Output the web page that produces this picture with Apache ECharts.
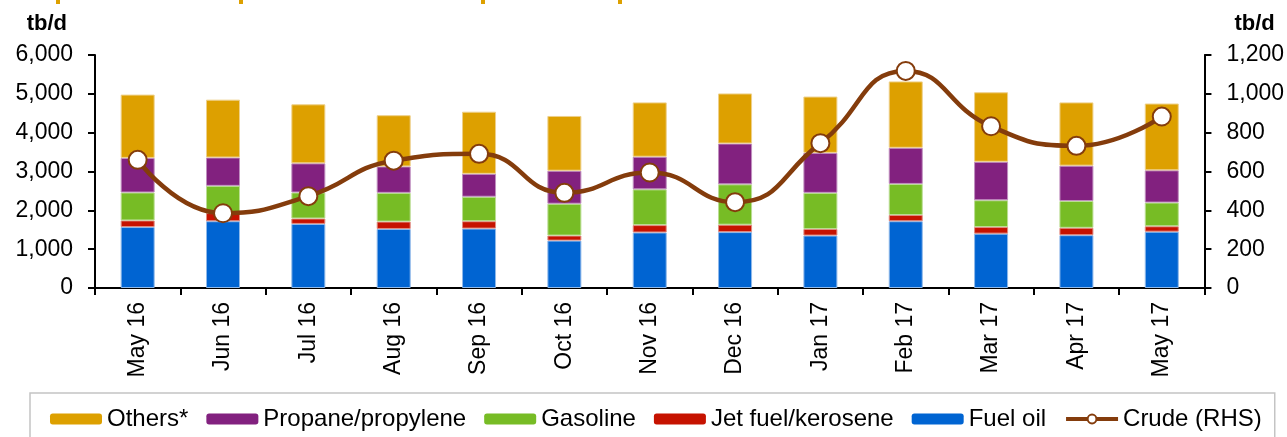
<!DOCTYPE html>
<html>
<head>
<meta charset="utf-8">
<script src="https://cdn.jsdelivr.net/npm/echarts@6/dist/echarts.min.js"></script>
<style>
html,body{margin:0;padding:0;background:#fff;}
#main{width:1287px;height:437px;}
</style>
</head>
<body>
<div id="main"></div>
<script>
// months
var months = ['May 16', 'Jun 16', 'Jul 16', 'Aug 16', 'Sep 16', 'Oct 16', 'Nov 16', 'Dec 16', 'Jan 17', 'Feb 17', 'Mar 17', 'Apr 17', 'May 17'];
// stacked products, tb/d (left axis)
var fuelOil  = [1570, 1720, 1650, 1520, 1530, 1220, 1430, 1440, 1350, 1720, 1400, 1360, 1450];
var jetFuel  = [170, 210, 140, 190, 190, 130, 190, 190, 170, 160, 170, 190, 140];
var gasoline = [720, 700, 670, 740, 630, 820, 920, 1040, 930, 800, 690, 690, 610];
var propane  = [890, 730, 750, 680, 590, 850, 840, 1050, 1030, 930, 990, 910, 830];
var others   = [1630, 1490, 1520, 1320, 1600, 1410, 1400, 1290, 1450, 1710, 1790, 1630, 1720];
// crude, tb/d (right axis)
var crude = [660, 385, 473, 656, 691, 490, 595, 442, 746, 1118, 833, 732, 883];

var leftTicks = {min: 0, max: 6000, interval: 1000};
var rightTicks = {min: 0, max: 1200, interval: 200};

var fnt = "'Liberation Sans', Arial, sans-serif";
var brown = '#843c0c';

function fmt(v) {
	return String(v).replace(/\B(?=(\d{3})+(?!\d))/g, ',');
}

function barSeries(name, data, color, edge) {
	return {
		name: name,
		type: 'bar',
		stack: 'prod',
		barWidth: 34,
		itemStyle: {color: color, borderColor: edge, borderWidth: 1},
		data: data
	};
}

var myChart = echarts.init(document.getElementById('main'));
var option = {
	animation: false,
	textStyle: {fontFamily: fnt, color: '#000'},
	grid: {left: 95, right: 82, top: 55, bottom: 149},
	legend: {
		left: 30,
		top: 393,
		width: 1240,
		padding: [14, 13, 30, 20],
		borderColor: '#c4c4c4',
		borderWidth: 1.5,
		itemWidth: 52,
		itemHeight: 11,
		itemGap: 18,
		itemStyle: {borderWidth: 0},
		textStyle: {fontSize: 24, color: '#000', fontFamily: fnt},
		data: ['Others*', 'Propane/propylene', 'Gasoline', 'Jet fuel/kerosene', 'Fuel oil', {
			name: 'Crude (RHS)',
			itemStyle: {color: '#fff', borderColor: brown, borderWidth: 2},
			lineStyle: {color: brown, width: 4}
		}]
	},
	graphic: [
		{type: 'rect', shape: {x: 56, y: 0, width: 4, height: 4}, style: {fill: '#dda000'}},
		{type: 'rect', shape: {x: 239, y: 0, width: 4, height: 4}, style: {fill: '#dda000'}},
		{type: 'rect', shape: {x: 481, y: 0, width: 4, height: 4}, style: {fill: '#dda000'}},
		{type: 'rect', shape: {x: 618, y: 0, width: 4, height: 4}, style: {fill: '#dda000'}}
	],
	xAxis: {
		type: 'category',
		data: months,
		axisLine: {lineStyle: {color: '#000', width: 2}},
		axisTick: {show: true, length: 7, lineStyle: {color: '#000', width: 2}},
		axisLabel: {rotate: 90, fontSize: 23, color: '#000', margin: 14, interval: 0}
	},
	yAxis: [{
		type: 'value',
		min: leftTicks.min, max: leftTicks.max, interval: leftTicks.interval,
		name: 'tb/d',
		nameLocation: 'end',
		nameGap: 20,
		nameTextStyle: {fontSize: 22, fontWeight: 'bold', color: '#000', align: 'right', padding: [0, 28, 0, 0]},
		axisLine: {show: true, lineStyle: {color: '#000', width: 2}},
		axisTick: {show: true, length: 7, lineStyle: {color: '#000', width: 2}},
		splitLine: {show: false},
		axisLabel: {fontSize: 23, color: '#000', margin: 22, formatter: fmt}
	}, {
		type: 'value',
		position: 'right',
		min: rightTicks.min, max: rightTicks.max, interval: rightTicks.interval,
		name: 'tb/d',
		nameLocation: 'end',
		nameGap: 20,
		nameTextStyle: {fontSize: 22, fontWeight: 'bold', color: '#000', align: 'left', padding: [0, 0, 0, 30]},
		axisLine: {show: true, lineStyle: {color: '#000', width: 2}},
		axisTick: {show: true, length: 7, lineStyle: {color: '#000', width: 2}},
		splitLine: {show: false},
		axisLabel: {fontSize: 23, color: '#000', margin: 22, formatter: fmt}
	}],
	series: [
		barSeries('Fuel oil', fuelOil, '#0064d2', '#8fb9ea'),
		barSeries('Jet fuel/kerosene', jetFuel, '#c61200', '#e08c80'),
		barSeries('Gasoline', gasoline, '#77bc25', '#bbdd94'),
		barSeries('Propane/propylene', propane, '#82217f', '#c08fbf'),
		barSeries('Others*', others, '#dda000', '#eed08a'),
		{
			name: 'Crude (RHS)',
			type: 'line',
			yAxisIndex: 1,
			smooth: 0.5,
			symbol: 'circle',
			symbolSize: 18,
			lineStyle: {color: brown, width: 4.5},
			itemStyle: {color: '#fff', borderColor: brown, borderWidth: 2},
			z: 5,
			data: crude
		}
	]
};
myChart.setOption(option);
</script>
</body>
</html>
